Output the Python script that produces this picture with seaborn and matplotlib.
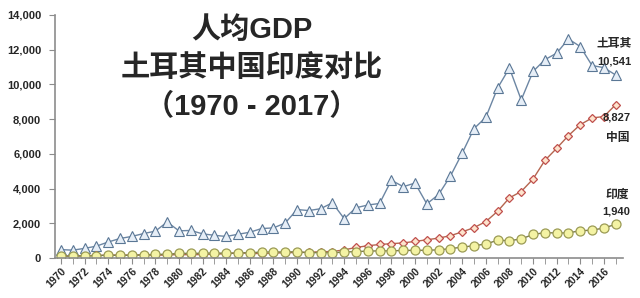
import matplotlib
matplotlib.use("Agg")
import matplotlib.pyplot as plt
import seaborn as sns
import pandas as pd
from matplotlib.ticker import FuncFormatter, MultipleLocator

years = list(range(1970, 2018))
turkey = [488, 455, 558, 686, 924, 1127, 1245, 1410, 1551, 2074,
          1568, 1589, 1395, 1310, 1244, 1370, 1486, 1699, 1737, 2015,
          2794, 2735, 2842, 3180, 2270, 2898, 3053, 3144, 4481, 4110,
          4317, 3119, 3660, 4718, 6041, 7456, 8101, 9792, 10941, 9104,
          10742, 11420, 11796, 12615, 12178, 11085, 10964, 10541]
china = [113, 119, 132, 157, 160, 178, 165, 185, 156, 184,
         195, 197, 203, 225, 250, 294, 281, 251, 284, 311,
         318, 333, 366, 377, 473, 610, 709, 782, 829, 873,
         959, 1053, 1149, 1289, 1509, 1753, 2099, 2694, 3468, 3832,
         4550, 5618, 6317, 7051, 7679, 8067, 8148, 8827]
india = [112, 119, 122, 143, 163, 158, 161, 186, 206, 224,
         267, 271, 275, 292, 277, 297, 310, 340, 354, 346,
         368, 303, 317, 301, 346, 374, 400, 415, 413, 442,
         443, 452, 471, 546, 628, 714, 807, 1028, 999, 1102,
         1358, 1463, 1444, 1450, 1574, 1606, 1730, 1940]
title_lines = ["人均GDP", "土耳其中国印度对比", "（1970 - 2017）"]
series_names = ["土耳其", "中国", "印度"]

sns.set_style("white")
fam = ['Liberation Sans', 'Noto Sans CJK SC', 'DejaVu Sans']
plt.rcParams['font.family'] = fam

df = pd.DataFrame({"year": years, "土耳其": turkey, "中国": china, "印度": india})

fig = plt.figure(figsize=(6.4, 2.98), dpi=100)
ax = fig.add_axes([0.086, 0.134, 0.887, 0.816])

sns.lineplot(data=df, x="year", y="土耳其", ax=ax, color="#6c86a3", lw=1.0,
             marker="^", markersize=6.5, markerfacecolor="#e6eef7",
             markeredgecolor="#5a7795", markeredgewidth=0.8)
sns.lineplot(data=df, x="year", y="中国", ax=ax, color="#b5654f", lw=1.0,
             marker="D", markersize=4.5, markerfacecolor="#fde3cc",
             markeredgecolor="#c0504d", markeredgewidth=0.9)
sns.lineplot(data=df, x="year", y="印度", ax=ax, color="#7d7d4a", lw=1.0,
             marker="o", markersize=6.5, markerfacecolor="#f4f3a4",
             markeredgecolor="#9b9b55", markeredgewidth=0.9)

ax.set_xlim(1969.5, 2017.6)
ax.set_ylim(0, 14000)
ax.yaxis.set_major_locator(MultipleLocator(2000))
ax.yaxis.set_major_formatter(FuncFormatter(lambda v, p: f"{int(v):,}"))
ax.set_xticks(years[::2])
ax.set_xticks(years, minor=True)
ax.set_xticklabels([str(y) for y in years[::2]], rotation=45, ha="right",
                   rotation_mode="anchor", fontsize=7.5, fontweight="bold")
for lab in ax.get_yticklabels():
    lab.set_fontsize(8)
    lab.set_fontweight("bold")
ax.set_xlabel("")
ax.set_ylabel("")
for s in ["top", "right"]:
    ax.spines[s].set_visible(False)
for s in ["left", "bottom"]:
    ax.spines[s].set_color("#8c8c8c")
    ax.spines[s].set_linewidth(1.2)
ax.tick_params(axis="y", which="major", left=True, length=4, color="#8c8c8c", pad=6)
ax.tick_params(axis="x", which="both", bottom=True, length=4, color="#8c8c8c", pad=2)
ax.grid(False)

# Title
ty = [30, 68, 107]
for line, y in zip(title_lines, ty):
    fig.text(252 / 640, 1 - y / 298, line, ha="center", va="center",
             fontsize=21, fontweight="bold", family=fam)

# Series labels
def lab(x, y, s, size=8.5):
    fig.text(x / 640, 1 - y / 298, s, ha="center", va="center",
             fontsize=size, fontweight="bold", family=fam)

lab(614, 44, series_names[0])
lab(614, 61, f"{turkey[-1]:,}", 8)
lab(617, 118, f"{china[-1]:,}", 8)
lab(618, 138, series_names[1])
lab(617, 195, series_names[2])
lab(616, 212, f"{india[-1]:,}", 8)

fig.savefig("out.png", dpi=100)
